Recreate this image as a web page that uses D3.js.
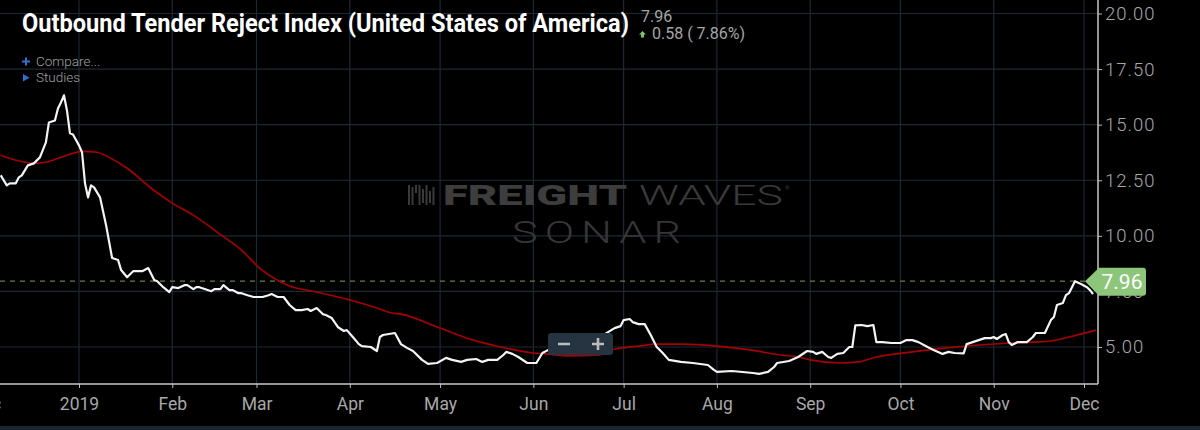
<!DOCTYPE html>
<html>
<head>
<meta charset="utf-8">
<script src="https://cdn.jsdelivr.net/npm/d3@7"></script>
<style>
  html, body { margin: 0; padding: 0; background: #000; overflow: hidden; }
  svg { display: block; font-family: Roboto, "Noto Sans", sans-serif; }
</style>
</head>
<body>
<script>
// ---------- DATA ----------
const rejectDates = [
  "2018-12-06","2018-12-08","2018-12-09","2018-12-11","2018-12-12","2018-12-13","2018-12-15","2018-12-17",
  "2018-12-19","2018-12-21","2018-12-22","2018-12-24","2018-12-25","2018-12-26","2018-12-27","2018-12-28",
  "2018-12-29","2018-12-30","2019-01-01","2019-01-02","2019-01-03","2019-01-04","2019-01-05","2019-01-06",
  "2019-01-08","2019-01-10","2019-01-12","2019-01-14","2019-01-15","2019-01-17","2019-01-19","2019-01-22",
  "2019-01-24","2019-01-26","2019-01-27","2019-01-29","2019-01-31","2019-02-01","2019-02-03","2019-02-05",
  "2019-02-06","2019-02-08","2019-02-09","2019-02-10","2019-02-12","2019-02-14","2019-02-15","2019-02-17",
  "2019-02-18","2019-02-20","2019-02-21","2019-02-23","2019-02-24","2019-02-26","2019-02-28","2019-03-03",
  "2019-03-05","2019-03-06","2019-03-08","2019-03-10","2019-03-12","2019-03-14","2019-03-16","2019-03-18",
  "2019-03-19","2019-03-21","2019-03-23","2019-03-24","2019-03-26","2019-03-28","2019-03-30","2019-03-31",
  "2019-04-02","2019-04-04","2019-04-05","2019-04-08","2019-04-10","2019-04-11","2019-04-12","2019-04-16",
  "2019-04-18","2019-04-20","2019-04-22","2019-04-25","2019-04-27","2019-04-30","2019-05-03","2019-05-05",
  "2019-05-08","2019-05-10","2019-05-13","2019-05-15","2019-05-17","2019-05-20","2019-05-22","2019-05-23",
  "2019-05-25","2019-05-27","2019-05-30","2019-06-02","2019-06-04","2019-06-06","2019-06-10","2019-06-16",
  "2019-06-22","2019-06-25","2019-06-28","2019-06-30","2019-07-01","2019-07-03","2019-07-04","2019-07-06",
  "2019-07-08","2019-07-10","2019-07-12","2019-07-14","2019-07-16","2019-07-20","2019-07-24","2019-07-29",
  "2019-07-31","2019-08-01","2019-08-06","2019-08-13","2019-08-15","2019-08-18","2019-08-20","2019-08-21",
  "2019-08-25","2019-08-28","2019-08-29","2019-08-31","2019-09-02","2019-09-03","2019-09-05","2019-09-07",
  "2019-09-08","2019-09-10","2019-09-12","2019-09-14","2019-09-15","2019-09-16","2019-09-18","2019-09-20",
  "2019-09-22","2019-09-23","2019-09-25","2019-09-28","2019-10-01","2019-10-03","2019-10-05","2019-10-07",
  "2019-10-10","2019-10-12","2019-10-15","2019-10-17","2019-10-19","2019-10-22","2019-10-23","2019-10-25",
  "2019-10-27","2019-10-29","2019-10-31","2019-11-01","2019-11-02","2019-11-04","2019-11-05","2019-11-06",
  "2019-11-07","2019-11-09","2019-11-12","2019-11-14","2019-11-15","2019-11-18","2019-11-20","2019-11-21",
  "2019-11-22","2019-11-24","2019-11-25","2019-11-26","2019-11-28","2019-11-30","2019-12-02","2019-12-03",
  "2019-12-04"
];
const rejectValues = [
  12.72,12.27,12.36,12.36,12.63,12.72,13.17,13.26,
  13.53,14.20,15.10,15.19,15.73,16.00,16.32,15.64,
  14.61,14.56,14.07,13.76,12.36,11.73,12.27,12.18,
  11.73,10.48,9.00,8.91,8.46,8.14,8.41,8.41,
  8.55,8.01,7.96,7.69,7.47,7.69,7.65,7.78,
  7.78,7.60,7.69,7.69,7.60,7.51,7.60,7.60,
  7.78,7.56,7.56,7.42,7.42,7.33,7.25,7.25,
  7.33,7.38,7.25,7.25,6.89,6.66,6.66,6.71,
  6.62,6.75,6.48,6.44,6.30,5.90,5.72,5.76,
  5.45,5.13,5.04,5.00,4.82,5.45,5.54,5.63,
  5.13,4.96,4.82,4.42,4.24,4.28,4.51,4.42,
  4.33,4.42,4.46,4.33,4.42,4.42,4.64,4.78,
  4.69,4.55,4.28,4.28,4.73,4.87,5.05,5.20,
  5.45,5.60,5.85,5.94,6.21,6.26,6.12,6.03,
  6.03,5.54,5.00,4.73,4.42,4.33,4.28,4.19,
  3.97,3.88,3.92,3.83,3.79,3.88,4.10,4.28,
  4.37,4.55,4.64,4.82,4.78,4.69,4.78,4.55,
  4.51,4.69,4.73,5.00,5.00,5.97,5.99,5.94,
  5.99,5.22,5.22,5.18,5.18,5.31,5.31,5.22,
  5.00,4.87,4.69,4.78,4.73,4.71,5.13,5.22,
  5.31,5.40,5.40,5.45,5.36,5.54,5.58,5.22,
  5.09,5.22,5.22,5.45,5.63,5.63,6.21,6.35,
  6.89,6.98,7.33,7.42,7.96,7.83,7.69,7.56,
  7.38
];
const avgDates = [
  "2018-12-06","2018-12-11","2018-12-17","2018-12-21","2018-12-26","2018-12-30","2019-01-02","2019-01-07",
  "2019-01-11","2019-01-17","2019-01-25","2019-02-01","2019-02-08","2019-02-16","2019-02-24","2019-03-02",
  "2019-03-09","2019-03-12","2019-03-21","2019-04-01","2019-04-10","2019-04-15","2019-04-18","2019-05-01",
  "2019-05-12","2019-05-21","2019-06-01","2019-06-05","2019-06-12","2019-06-23","2019-06-27","2019-07-06",
  "2019-07-12","2019-07-21","2019-08-01","2019-08-12","2019-08-22","2019-08-28","2019-09-01","2019-09-11",
  "2019-09-17","2019-09-23","2019-10-05","2019-10-16","2019-10-27","2019-11-07","2019-11-14","2019-11-20",
  "2019-11-26","2019-12-05"
];
const avgValues = [
  13.62,13.40,13.26,13.31,13.53,13.71,13.80,13.76,
  13.53,13.04,12.14,11.47,10.93,10.16,9.36,8.55,
  7.92,7.74,7.47,7.11,6.75,6.53,6.48,5.85,
  5.31,5.00,4.73,4.69,4.60,4.64,4.87,5.04,
  5.13,5.13,5.04,4.87,4.64,4.55,4.42,4.28,
  4.33,4.55,4.78,4.96,5.09,5.18,5.22,5.27,
  5.45,5.76
];
const monthTicks = ["2018-12-01","2019-01-01","2019-02-01","2019-03-01","2019-04-01","2019-05-01","2019-06-01",
                    "2019-07-01","2019-08-01","2019-09-01","2019-10-01","2019-11-01","2019-12-01"];
const monthLabels = ["Dec","2019","Feb","Mar","Apr","May","Jun","Jul","Aug","Sep","Oct","Nov","Dec"];
const yTicks = [5, 7.5, 10, 12.5, 15, 17.5, 20];
const lastValue = 7.96;
const titleText = "Outbound Tender Reject Index (United States of America)";
const changeText = "0.58 ( 7.86%)";

// ---------- SETUP ----------
const W = 1200, H = 430;
const plotRight = 1098, plotBottom = 384;
const parse = d3.utcParse("%Y-%m-%d");

const x = d3.scaleUtc()
  .domain([parse("2019-01-01"), parse("2019-12-01")])
  .range([79, 1084]);
const y = d3.scaleLinear().domain([5, 20]).range([347, 13.5]);

const reject = rejectDates.map((d, i) => ({ date: parse(d), value: rejectValues[i] }));
const avg = avgDates.map((d, i) => ({ date: parse(d), value: avgValues[i] }));

const svg = d3.select("body").append("svg").attr("width", W).attr("height", H);
svg.append("rect").attr("width", W).attr("height", H).attr("fill", "#000");
svg.append("rect").attr("x", 0).attr("y", 426).attr("width", W).attr("height", 4).attr("fill", "#1b2530");

svg.append("clipPath").attr("id", "plotclip")
  .append("rect").attr("x", 0).attr("y", 0).attr("width", plotRight).attr("height", plotBottom);

// gridlines
const grid = svg.append("g").attr("stroke", "#1c2834").attr("stroke-width", 1.2);
grid.selectAll("line.h").data(yTicks).join("line")
  .attr("x1", 0).attr("x2", plotRight)
  .attr("y1", d => y(d)).attr("y2", d => y(d));
grid.selectAll("line.v").data(monthTicks.map(parse)).join("line")
  .attr("x1", d => x(d)).attr("x2", d => x(d))
  .attr("y1", 0).attr("y2", plotBottom);

// watermark
const wm = svg.append("g");
const barX = [408, 411.5, 415, 418.5, 422, 425.5, 429, 432.5];
const barPattern = [[0,20],[2,18],[0,8],[0,20],[4,14],[0,20],[6,12],[2,18]];
barX.forEach((bx, i) => {
  wm.append("rect").attr("x", bx).attr("y", 185 + barPattern[i][0]).attr("width", 2)
    .attr("height", barPattern[i][1]).attr("fill", "#3a3a3a");
});
wm.append("text").attr("x", 443).attr("y", 205).attr("font-size", 27).attr("font-weight", 900)
  .attr("textLength", 184).attr("lengthAdjust", "spacingAndGlyphs")
  .attr("fill", "#3d3d3d").text("FREIGHT");
wm.append("text").attr("x", 639).attr("y", 205).attr("font-size", 27).attr("font-weight", 300)
  .attr("textLength", 144).attr("lengthAdjust", "spacingAndGlyphs")
  .attr("fill", "#3a3a3a").text("WAVES");
wm.append("text").attr("x", 785).attr("y", 190).attr("font-size", 6).attr("fill", "#3a3a3a").text("®");
wm.append("text").attr("x", 512).attr("y", 243).attr("font-size", 31).attr("font-weight", 300)
  .attr("letter-spacing", "5px")
  .attr("textLength", 176).attr("lengthAdjust", "spacingAndGlyphs")
  .attr("fill", "#363636").text("SONAR");

// axes
const yAxis = d3.axisRight(y).tickValues(yTicks).tickSize(4).tickPadding(3)
  .tickFormat(d3.format(".2f"));
const gy = svg.append("g").attr("transform", `translate(${plotRight},0)`).call(yAxis);
gy.select(".domain").remove();
gy.selectAll("line").attr("stroke", "#bdbdbd");
gy.selectAll("text").attr("fill", "#a8a8a8").attr("font-size", 18.5).attr("font-weight", 300)
  .attr("letter-spacing", "1px").attr("font-family", "Roboto, sans-serif");

const xAxis = d3.axisBottom(x).tickValues(monthTicks.map(parse)).tickSize(4).tickPadding(9.5)
  .tickFormat((d, i) => monthLabels[i]);
const gx = svg.append("g").attr("transform", `translate(0,${plotBottom})`).call(xAxis);
gx.select(".domain").remove();
gx.selectAll("line").attr("stroke", "#bdbdbd");
gx.selectAll("text").attr("fill", "#a8a8a8").attr("font-size", 17.5).attr("font-weight", 400)
  .attr("font-family", "Roboto, sans-serif");

svg.append("line").attr("x1", 0).attr("x2", plotRight).attr("y1", plotBottom).attr("y2", plotBottom)
  .attr("stroke", "#c8c8c8").attr("stroke-width", 1.5);
svg.append("line").attr("x1", plotRight).attr("x2", plotRight).attr("y1", 0).attr("y2", plotBottom)
  .attr("stroke", "#c8c8c8").attr("stroke-width", 1.5);

// series
const plot = svg.append("g").attr("clip-path", "url(#plotclip)");
plot.append("line").attr("x1", 0).attr("x2", 1090).attr("y1", y(lastValue)).attr("y2", y(lastValue))
  .attr("stroke", "#5f8049").attr("stroke-width", 1.2).attr("stroke-dasharray", "5,5");
plot.append("path").datum(avg)
  .attr("d", d3.line().x(d => x(d.date)).y(d => y(d.value)).curve(d3.curveMonotoneX))
  .attr("fill", "none").attr("stroke", "#a80000").attr("stroke-width", 1.6);
plot.append("path").datum(reject)
  .attr("d", d3.line().x(d => x(d.date)).y(d => y(d.value)))
  .attr("fill", "none").attr("stroke", "#f4f4f4").attr("stroke-width", 2.2).attr("stroke-linejoin", "round");

// last value label
const ly = y(lastValue);
svg.append("path")
  .attr("d", `M1085,${ly} L1099,${ly-13.5} H1143 Q1146,${ly-13.5} 1146,${ly-10.5} V${ly+11.5} Q1146,${ly+14.5} 1143,${ly+14.5} H1099 Z`)
  .attr("fill", "#8dc57b");
svg.append("text").attr("x", 1122).attr("y", ly + 7.5).attr("text-anchor", "middle")
  .attr("font-size", 21).attr("fill", "#ffffff").text(lastValue.toFixed(2));

// zoom control
svg.append("rect").attr("x", 548).attr("y", 333).attr("width", 65).attr("height", 22).attr("rx", 3)
  .attr("fill", "#263340");
svg.append("path").attr("d", "M558,344 H570 M592,344 H604 M598,338 V350")
  .attr("stroke", "#bcbcbc").attr("stroke-width", 2.6).attr("fill", "none");

// title block
svg.append("text").attr("x", 22).attr("y", 32).attr("font-size", 26).attr("font-weight", 700)
  .attr("fill", "#ffffff").attr("textLength", 607).attr("lengthAdjust", "spacingAndGlyphs")
  .text(titleText);
svg.append("text").attr("x", 641).attr("y", 21.5).attr("font-size", 16).attr("fill", "#a6a6a6")
  .text(lastValue.toFixed(2));
svg.append("path").attr("d", "M642.5,31 L646,34.5 H644 V37.5 H641 V34.5 H639 Z").attr("fill", "#7cc36a");
svg.append("text").attr("x", 652).attr("y", 38.5).attr("font-size", 16).attr("fill", "#a6a6a6")
  .text(changeText);

// compare / studies
svg.append("path").attr("d", "M22,61.5 H30 M26,57.5 V65.5").attr("stroke", "#2f6fd0").attr("stroke-width", 2);
svg.append("text").attr("x", 36).attr("y", 66).attr("font-size", 13.5).attr("font-weight", 300)
  .attr("fill", "#a0a0a0").text("Compare...");
svg.append("path").attr("d", "M23,74 L29.5,77.8 L23,81.5 Z").attr("fill", "#2f6fd0");
svg.append("text").attr("x", 36).attr("y", 82).attr("font-size", 13.5).attr("font-weight", 300)
  .attr("fill", "#a0a0a0").text("Studies");
</script>
</body>
</html>
